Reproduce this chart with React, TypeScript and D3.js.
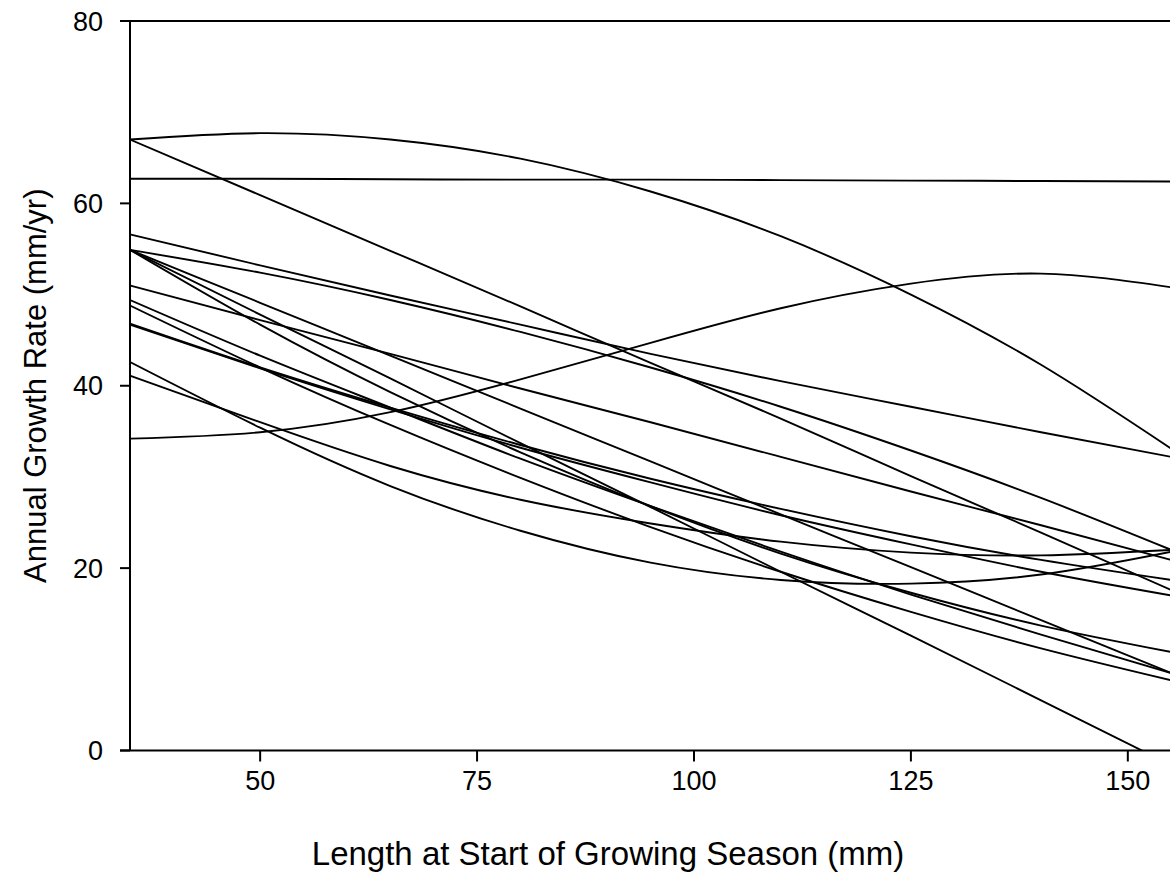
import React from "react";
import * as d3 from "d3";

// Length at start of growing season (mm) at which each fitted curve is read
const lengthGrid = [35, 50, 65, 80, 95, 110, 125, 140, 155];

// Annual growth rate (mm/yr) of each fitted curve, read at lengthGrid
const archCurve = [67.0, 67.7, 67.0, 64.9, 61.3, 56.4, 50.0, 42.3, 33.1];
const flatCurve = [62.7, 62.7, 62.65, 62.6, 62.6, 62.55, 62.5, 62.45, 62.4];
const risingCurve = [34.2, 34.9, 37.1, 40.7, 44.7, 48.5, 51.2, 52.3, 50.8];
const gentleCurve = [56.6, 53.2, 49.9, 46.7, 43.5, 40.5, 37.7, 34.9, 32.2];
const steep67Curve = [67.0, 60.9, 54.8, 48.7, 42.5, 36.4, 30.1, 23.9, 17.6];
const fan1Curve = [54.9, 52.4, 49.4, 45.9, 42.0, 37.7, 32.9, 27.7, 22.0];
const fan2Curve = [54.9, 49.1, 43.3, 37.5, 31.7, 25.9, 20.1, 14.3, 8.5];
const fan3Curve = [54.9, 47.8, 40.8, 33.7, 26.7, 19.6, 12.6, 5.5, -1.6];
const fan4Curve = [54.9, 46.7, 39.3, 32.7, 26.8, 21.6, 17.3, 13.7, 10.8];
const mid51Curve = [51.0, 47.2, 43.5, 39.7, 36.0, 32.2, 28.4, 24.7, 20.9];
const mid49Curve = [49.4, 43.3, 37.6, 32.0, 26.8, 21.8, 17.1, 12.7, 8.5];
const mid48Curve = [48.8, 42.0, 35.7, 29.9, 24.5, 19.6, 15.2, 11.2, 7.7];
const mid47aCurve = [46.8, 42.0, 37.6, 33.5, 29.8, 26.5, 23.5, 20.9, 18.7];
const mid47bCurve = [46.7, 41.9, 37.4, 33.2, 29.4, 25.8, 22.6, 19.6, 17.0];
const uCurve = [42.6, 35.4, 29.0, 24.1, 20.6, 18.7, 18.3, 19.3, 21.8];
const lowFlatCurve = [41.1, 36.0, 31.2, 27.5, 24.9, 22.9, 21.7, 21.4, 22.0];

const allCurves = [
  archCurve, flatCurve, risingCurve, gentleCurve, steep67Curve,
  fan1Curve, fan2Curve, fan3Curve, fan4Curve,
  mid51Curve, mid49Curve, mid48Curve, mid47aCurve, mid47bCurve,
  uCurve, lowFlatCurve,
];

const xTicks = [50, 75, 100, 125, 150];
const yTicks = [0, 20, 40, 60, 80];

const W = 1170;
const H = 873;
const left = 130;
const right = 1171.2;
const top = 21;
const bottom = 750.5;
const FONT = "'Liberation Sans', Arial, sans-serif";

export default function App() {
  const x = d3.scaleLinear().domain([35, 155]).range([left, right]);
  const y = d3.scaleLinear().domain([0, 80]).range([bottom, top]);
  const line = d3
    .line<number>()
    .x((_, i) => x(lengthGrid[i]))
    .y((d) => y(d))
    .curve(d3.curveNatural);

  return (
    <svg
      width={W}
      height={H}
      style={{ position: "absolute", left: 0, top: 0, background: "#fff" }}
    >
      <defs>
        <clipPath id="plot">
          <rect x={left} y={top} width={right - left} height={bottom - top} />
        </clipPath>
      </defs>
      <rect x={0} y={0} width={W} height={H} fill="#fff" />
      <g clipPath="url(#plot)">
        {allCurves.map((c, i) => (
          <path key={i} d={line(c) || ""} fill="none" stroke="#000" strokeWidth={1.9} />
        ))}
      </g>
      {/* axes */}
      <line x1={left} x2={left} y1={top} y2={bottom} stroke="#000" strokeWidth={2} />
      <line x1={left - 10} x2={W} y1={bottom} y2={bottom} stroke="#000" strokeWidth={2} />
      <line x1={left} x2={W} y1={top} y2={top} stroke="#000" strokeWidth={2} />
      {yTicks.map((t) => (
        <g key={t}>
          <line x1={left - 10} x2={left} y1={y(t)} y2={y(t)} stroke="#000" strokeWidth={2} />
          <text
            x={103}
            y={y(t)}
            dy="0.36em"
            textAnchor="end"
            fontFamily={FONT}
            fontSize={27}
            fill="#000"
          >
            {t}
          </text>
        </g>
      ))}
      {xTicks.map((t) => (
        <g key={t}>
          <line x1={x(t)} x2={x(t)} y1={bottom} y2={bottom + 11} stroke="#000" strokeWidth={2} />
          <text
            x={x(t)}
            y={790}
            textAnchor="middle"
            fontFamily={FONT}
            fontSize={27}
            fill="#000"
          >
            {t}
          </text>
        </g>
      ))}
      <text
        x={608}
        y={865}
        textAnchor="middle"
        fontFamily={FONT}
        fontSize={33}
        fill="#000"
      >
        Length at Start of Growing Season (mm)
      </text>
      <text
        transform={`translate(46, ${(top + bottom) / 2}) rotate(-90)`}
        textAnchor="middle"
        fontFamily={FONT}
        fontSize={31}
        fill="#000"
      >
        Annual Growth Rate (mm/yr)
      </text>
    </svg>
  );
}
